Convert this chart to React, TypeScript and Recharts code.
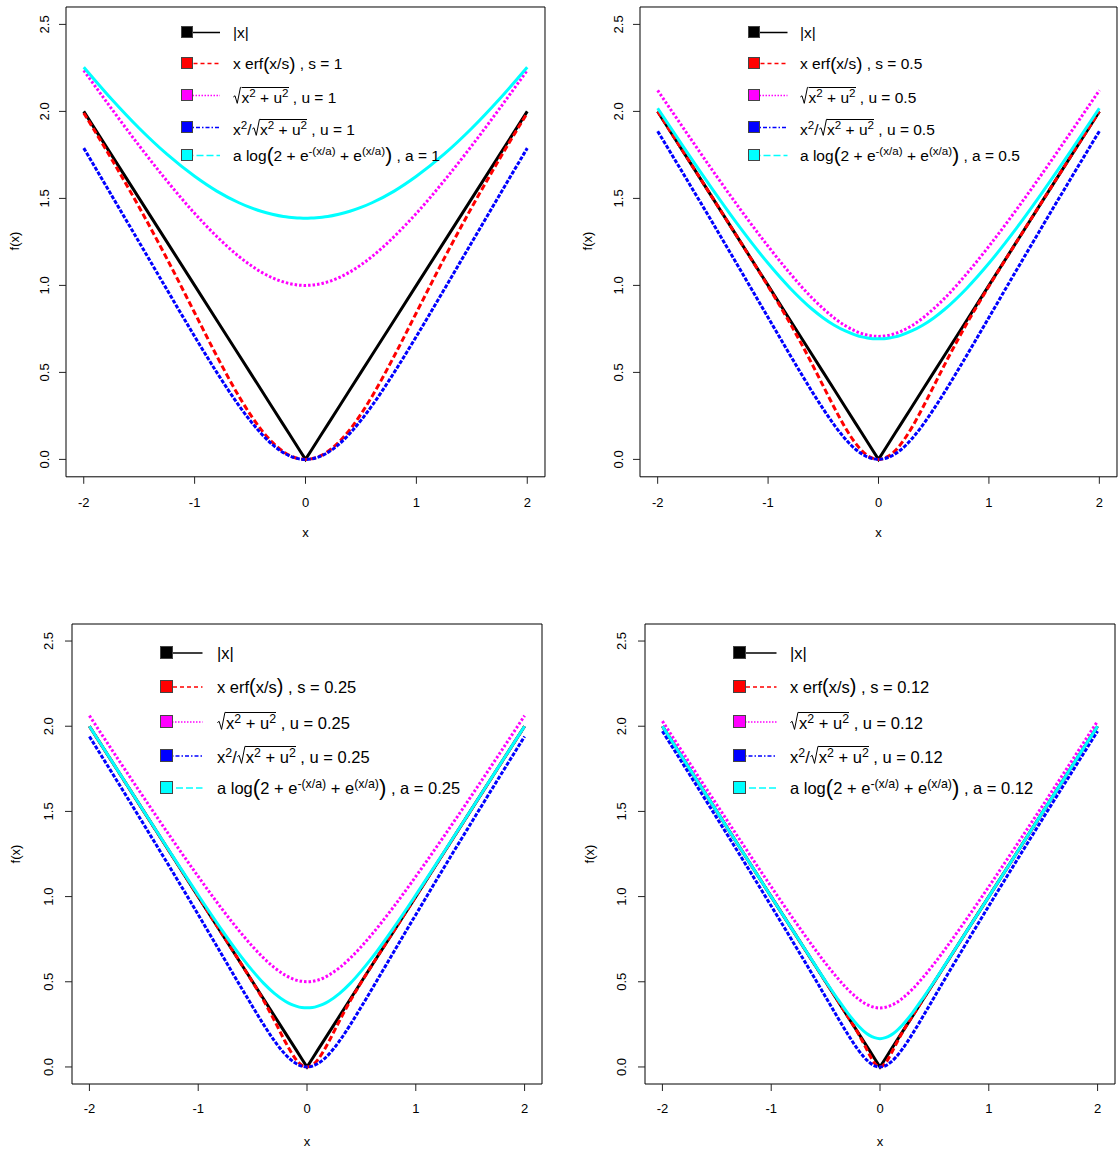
import React from 'react';
import { LineChart, Line, XAxis, YAxis, ReferenceArea, Legend } from 'recharts';

const FONT = '"Liberation Sans", Arial, Helvetica, sans-serif';

// x grid shared by all curves (finer near 0 where the curves bend)
const X_GRID = [-2, -1.75, -1.5, -1.25, -1, -0.8, -0.6, -0.5, -0.4, -0.3, -0.2, -0.15, -0.1, -0.05, 0, 0.05, 0.1, 0.15, 0.2, 0.3, 0.4, 0.5, 0.6, 0.8, 1, 1.25, 1.5, 1.75, 2];
const ABS_X = [2, 1.75, 1.5, 1.25, 1, 0.8, 0.6, 0.5, 0.4, 0.3, 0.2, 0.15, 0.1, 0.05, 0, 0.05, 0.1, 0.15, 0.2, 0.3, 0.4, 0.5, 0.6, 0.8, 1, 1.25, 1.5, 1.75, 2];

// panel 1 : s = u = a = 1
const ERF_S1 = [1.991, 1.727, 1.449, 1.154, 0.843, 0.594, 0.362, 0.26, 0.171, 0.099, 0.045, 0.025, 0.011, 0.003, 0, 0.003, 0.011, 0.025, 0.045, 0.099, 0.171, 0.26, 0.362, 0.594, 0.843, 1.154, 1.449, 1.727, 1.991];
const SQRT_U1 = [2.236, 2.016, 1.803, 1.601, 1.414, 1.281, 1.166, 1.118, 1.077, 1.044, 1.02, 1.011, 1.005, 1.001, 1, 1.001, 1.005, 1.011, 1.02, 1.044, 1.077, 1.118, 1.166, 1.281, 1.414, 1.601, 1.803, 2.016, 2.236];
const RATIO_U1 = [1.789, 1.519, 1.248, 0.976, 0.707, 0.5, 0.309, 0.224, 0.149, 0.086, 0.039, 0.022, 0.01, 0.002, 0, 0.002, 0.01, 0.022, 0.039, 0.086, 0.149, 0.224, 0.309, 0.5, 0.707, 0.976, 1.248, 1.519, 1.789];
const LOG_A1 = [2.254, 2.071, 1.903, 1.754, 1.627, 1.542, 1.475, 1.448, 1.426, 1.409, 1.396, 1.392, 1.389, 1.387, 1.386, 1.387, 1.389, 1.392, 1.396, 1.409, 1.426, 1.448, 1.475, 1.542, 1.627, 1.754, 1.903, 2.071, 2.254];

// panel 2 : 0.5
const ERF_S05 = [2, 1.75, 1.5, 1.249, 0.995, 0.781, 0.546, 0.421, 0.297, 0.181, 0.086, 0.049, 0.022, 0.006, 0, 0.006, 0.022, 0.049, 0.086, 0.181, 0.297, 0.421, 0.546, 0.781, 0.995, 1.249, 1.5, 1.75, 2];
const SQRT_U05 = [2.121, 1.888, 1.658, 1.436, 1.225, 1.068, 0.927, 0.866, 0.812, 0.768, 0.735, 0.723, 0.714, 0.709, 0.707, 0.709, 0.714, 0.723, 0.735, 0.768, 0.812, 0.866, 0.927, 1.068, 1.225, 1.436, 1.658, 1.888, 2.121];
const RATIO_U05 = [1.886, 1.623, 1.357, 1.088, 0.816, 0.599, 0.388, 0.289, 0.197, 0.117, 0.054, 0.031, 0.014, 0.004, 0, 0.004, 0.014, 0.031, 0.054, 0.117, 0.197, 0.289, 0.388, 0.599, 0.816, 1.088, 1.357, 1.623, 1.886];
const LOG_A05 = [2.018, 1.78, 1.549, 1.329, 1.127, 0.984, 0.863, 0.813, 0.771, 0.738, 0.713, 0.704, 0.698, 0.694, 0.693, 0.694, 0.698, 0.704, 0.713, 0.738, 0.771, 0.813, 0.863, 0.984, 1.127, 1.329, 1.549, 1.78, 2.018];

// panel 3 : 0.25
const ERF_S025 = [2, 1.75, 1.5, 1.25, 1, 0.8, 0.6, 0.498, 0.391, 0.273, 0.148, 0.091, 0.043, 0.011, 0, 0.011, 0.043, 0.091, 0.148, 0.273, 0.391, 0.498, 0.6, 0.8, 1, 1.25, 1.5, 1.75, 2];
const SQRT_U025 = [2.062, 1.82, 1.581, 1.346, 1.118, 0.943, 0.781, 0.707, 0.64, 0.583, 0.539, 0.522, 0.51, 0.503, 0.5, 0.503, 0.51, 0.522, 0.539, 0.583, 0.64, 0.707, 0.781, 0.943, 1.118, 1.346, 1.581, 1.82, 2.062];
const RATIO_U025 = [1.94, 1.683, 1.423, 1.161, 0.894, 0.678, 0.461, 0.354, 0.25, 0.154, 0.074, 0.043, 0.02, 0.005, 0, 0.005, 0.02, 0.043, 0.074, 0.154, 0.25, 0.354, 0.461, 0.678, 0.894, 1.161, 1.423, 1.683, 1.94];
const LOG_A025 = [2, 1.751, 1.501, 1.253, 1.009, 0.82, 0.643, 0.564, 0.492, 0.432, 0.386, 0.369, 0.357, 0.349, 0.347, 0.349, 0.357, 0.369, 0.386, 0.432, 0.492, 0.564, 0.643, 0.82, 1.009, 1.253, 1.501, 1.751, 2];

// panel 4 : 0.12
const ERF_S012 = [2, 1.75, 1.5, 1.25, 1, 0.8, 0.6, 0.5, 0.4, 0.3, 0.196, 0.138, 0.076, 0.022, 0, 0.022, 0.076, 0.138, 0.196, 0.3, 0.4, 0.5, 0.6, 0.8, 1, 1.25, 1.5, 1.75, 2];
const SQRT_U012 = [2.03, 1.784, 1.539, 1.297, 1.058, 0.872, 0.693, 0.608, 0.529, 0.458, 0.4, 0.377, 0.361, 0.35, 0.346, 0.35, 0.361, 0.377, 0.4, 0.458, 0.529, 0.608, 0.693, 0.872, 1.058, 1.297, 1.539, 1.784, 2.03];
const RATIO_U012 = [1.971, 1.717, 1.462, 1.205, 0.945, 0.734, 0.52, 0.411, 0.302, 0.196, 0.1, 0.06, 0.028, 0.007, 0, 0.007, 0.028, 0.06, 0.1, 0.196, 0.302, 0.411, 0.52, 0.734, 0.945, 1.205, 1.462, 1.717, 1.971];
const LOG_A012 = [2, 1.75, 1.5, 1.25, 1, 0.8, 0.602, 0.503, 0.409, 0.319, 0.242, 0.211, 0.187, 0.172, 0.166, 0.172, 0.187, 0.211, 0.242, 0.319, 0.409, 0.503, 0.602, 0.8, 1, 1.25, 1.5, 1.75, 2];

const X_TICKS = [-2, -1, 0, 1, 2];
const Y_TICKS = [0, 0.5, 1, 1.5, 2, 2.5];
const X_DOMAIN = [-2.16, 2.16];
const Y_DOMAIN = [-0.1, 2.6];

const COLORS = ['#000000', '#ff0000', '#ff00ff', '#0000ff', '#00ffff'];
const PLOT_DASH = [undefined, '6 3', '2.5 2', '4 1.5', undefined];
const LEG_DASH = [undefined, '4 3', '1.5 1.5', '4 2 1.5 2', '7 3'];

// page layout of each panel (box edges in page px)
const PANELS = [
  { p: '1', L: 66, R: 545, T: 6.6, B: 476.4, erf: ERF_S1, sq: SQRT_U1, rat: RATIO_U1, lg: LOG_A1,
    legX: 181, legRows: [33, 64, 96, 128, 156], box: 11, lineEnd: 39, textX: 52, fs: 15.5, yGap: 17, xGap: 25.6, titleGap: 57, fxX: 15 },
  { p: '0.5', L: 640, R: 1117, T: 6.6, B: 476.4, erf: ERF_S05, sq: SQRT_U05, rat: RATIO_U05, lg: LOG_A05,
    legX: 747.5, legRows: [33, 64, 96, 128, 156], box: 11, lineEnd: 39.5, textX: 52.5, fs: 15.5, yGap: 17, xGap: 25.6, titleGap: 57, fxX: 588 },
  { p: '0.25', L: 72, R: 542, T: 624, B: 1084, erf: ERF_S025, sq: SQRT_U025, rat: RATIO_U025, lg: LOG_A025,
    legX: 160, legRows: [653, 687, 722, 756, 788], box: 12, lineEnd: 42.5, textX: 57, fs: 16.5, yGap: 19, xGap: 24.5, titleGap: 58, fxX: 16 },
  { p: '0.12', L: 645, R: 1115, T: 624, B: 1084, erf: ERF_S012, sq: SQRT_U012, rat: RATIO_U012, lg: LOG_A012,
    legX: 732.5, legRows: [653, 687, 722, 756, 788], box: 12, lineEnd: 43.5, textX: 57.5, fs: 16.5, yGap: 19, xGap: 24.5, titleGap: 58, fxX: 590 },
];

const Sup = ({ children }: any) => (
  <span style={{ fontSize: '0.75em', position: 'relative', top: '-0.5em' }}>{children}</span>
);

const Paren = ({ big, children }: any) => (
  <span style={{ fontSize: big ? '1.35em' : '1.2em', lineHeight: 0, position: 'relative', top: big ? '0.04em' : '0.03em' }}>{children}</span>
);

const Sqrt = ({ children }: any) => (
  <span style={{ position: 'relative', display: 'inline-block', paddingLeft: '0.55em' }}>
    <svg style={{ position: 'absolute', left: 0, top: 0, width: '0.55em', height: '1.08em', overflow: 'visible' }} viewBox="0 0 12 21" preserveAspectRatio="none">
      <polyline points="0.5,12.5 2.8,11 6,20.5 10.5,0.5 12,0.5" fill="none" stroke="#000" strokeWidth={1} vectorEffect="non-scaling-stroke" />
    </svg>
    <span style={{ borderTop: '1px solid #000', display: 'inline-block', paddingTop: '0.12em' }}>{children}</span>
  </span>
);

const legendLabels = (p: string) => [
  <span>|x|</span>,
  <span>x erf<Paren>(</Paren>x/s<Paren>)</Paren> , s = {p}</span>,
  <span><Sqrt>x<Sup>2</Sup> + u<Sup>2</Sup></Sqrt> , u = {p}</span>,
  <span>x<Sup>2</Sup>/<Sqrt>x<Sup>2</Sup> + u<Sup>2</Sup></Sqrt> , u = {p}</span>,
  <span>a log<Paren big>(</Paren>2 + e<Sup>-(x/a)</Sup> + e<Sup>(x/a)</Sup><Paren big>)</Paren> , a = {p}</span>,
];

const XTick = ({ x, y, payload }: any) => (
  <text x={x} y={y} dy="0.355em" textAnchor="middle" fontSize={13} fontFamily={FONT} fill="#000">{payload.value}</text>
);

const YTick = ({ x, y, payload }: any) => (
  <text x={x} y={y} transform={`rotate(-90 ${x} ${y})`} textAnchor="middle" fontSize={13} fontFamily={FONT} fill="#000">
    {Number(payload.value).toFixed(1)}
  </text>
);

const Panel = ({ cfg }: any) => {
  const data = X_GRID.map((x, i) => ({ x, abs: ABS_X[i], erf: cfg.erf[i], sq: cfg.sq[i], rat: cfg.rat[i], lg: cfg.lg[i] }));
  const left = cfg.L - 70;
  const top = cfg.T - 5;
  const pw = cfg.R - cfg.L;
  const ph = cfg.B - cfg.T;
  const W = pw + 75;
  const H = ph + 75;
  const zeroX = 70 + pw / 2;
  const labels = legendLabels(cfg.p);
  const keys = ['abs', 'erf', 'sq', 'rat', 'lg'];

  const renderLegend = () => (
    <div style={{ position: 'relative', width: 420, height: 200, fontFamily: FONT, fontSize: cfg.fs, color: '#000' }}>
      {labels.map((lab, i) => {
        const cy = (cfg.box + 2) / 2;
        return (
          <div key={i} style={{ position: 'absolute', left: 0, top: cfg.legRows[i] - top - 20, height: 40, display: 'flex', alignItems: 'center', whiteSpace: 'pre', lineHeight: 1 }}>
            <svg width={cfg.lineEnd + 1} height={cfg.box + 2} style={{ flex: 'none' }}>
              <line x1={cfg.box / 2} x2={cfg.lineEnd} y1={cy} y2={cy} stroke={COLORS[i]} strokeWidth={1.5} strokeDasharray={LEG_DASH[i]} />
              <rect x={0.5} y={0.5} width={cfg.box} height={cfg.box} fill={COLORS[i]} stroke="#444" strokeWidth={1} />
            </svg>
            <span style={{ marginLeft: cfg.textX - cfg.lineEnd - 1 }}>{lab}</span>
          </div>
        );
      })}
    </div>
  );

  return (
    <div style={{ position: 'absolute', left, top, width: W, height: H }}>
      <LineChart width={W} height={H} data={data} margin={{ top: 5, right: 5, bottom: 0, left: 0 }}>
        <XAxis dataKey="x" type="number" domain={X_DOMAIN} ticks={X_TICKS} allowDataOverflow interval={0}
          height={70} tickSize={7} tickMargin={cfg.xGap - 7} axisLine={false} tickLine={{ stroke: '#222' }} tick={<XTick />} />
        <YAxis type="number" domain={Y_DOMAIN} ticks={Y_TICKS} allowDataOverflow interval={0}
          width={70} tickSize={7} tickMargin={cfg.yGap - 7} axisLine={false} tickLine={{ stroke: '#222' }} tick={<YTick />} />
        <ReferenceArea x1={X_DOMAIN[0]} x2={X_DOMAIN[1]} y1={Y_DOMAIN[0]} y2={Y_DOMAIN[1]} fill="none" fillOpacity={0} stroke="#000" strokeWidth={1} ifOverflow="visible" />
        {keys.map((k, i) => (
          <Line key={k} dataKey={k} type={i === 0 ? 'linear' : 'monotone'} stroke={COLORS[i]} strokeWidth={3}
            strokeDasharray={PLOT_DASH[i]} dot={false} activeDot={false} isAnimationActive={false} />
        ))}
        <Legend layout="vertical" align="center" verticalAlign="middle" content={renderLegend}
          wrapperStyle={{ left: cfg.legX - left, top: 0, width: 420, height: 200 }} />
      </LineChart>
      <div style={{ position: 'absolute', left: zeroX - 20, width: 40, top: 5 + ph + cfg.titleGap - 8, height: 16, lineHeight: '16px', textAlign: 'center', fontFamily: FONT, fontSize: 13 }}>x</div>
      <div style={{ position: 'absolute', left: cfg.fxX - left, top: 5 + ph / 2, transform: 'translate(-50%, -50%) rotate(-90deg)', fontFamily: FONT, fontSize: 13, lineHeight: '16px', whiteSpace: 'nowrap' }}>f(x)</div>
    </div>
  );
};

export default function App() {
  return (
    <div style={{ position: 'absolute', left: 0, top: 0, width: 1118, height: 1153, background: '#fff', overflow: 'hidden' }}>
      {PANELS.map((cfg, i) => (
        <Panel key={i} cfg={cfg} />
      ))}
    </div>
  );
}
